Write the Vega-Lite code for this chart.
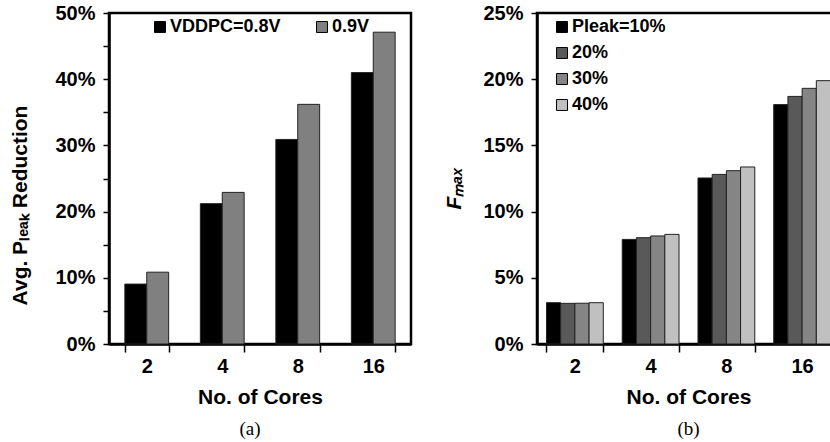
{
  "$schema": "https://vega.github.io/schema/vega-lite/v6.json",
  "padding": {"left": 8, "top": 1, "right": 0, "bottom": 0},
  "spacing": 29,
  "resolve": {"scale": {"color": "independent", "x": "independent", "xOffset": "independent", "y": "independent"}, "legend": {"color": "independent"}},
  "config": {
    "font": "Liberation Sans",
    "view": {"stroke": "black", "strokeWidth": 2.5},
    "axis": {
      "labelFont": "Liberation Sans", "labelFontWeight": "bold", "labelFontSize": 20, "labelColor": "black",
      "titleFont": "Liberation Sans", "titleFontWeight": "bold", "titleFontSize": 21, "titleColor": "black",
      "domainColor": "black", "domainWidth": 2.5, "tickColor": "black", "tickWidth": 1.5, "grid": false
    },
    "legend": {
      "orient": "none", "title": null, "symbolType": "square", "symbolSize": 120,
      "symbolStrokeColor": "black", "symbolStrokeWidth": 1, "labelFont": "Liberation Sans",
      "labelFontSize": 18, "labelFontWeight": "bold", "labelColor": "black", "labelOffset": 1
    },
    "bar": {"stroke": "#222222", "strokeWidth": 1},
    "title": {"font": "Liberation Serif", "fontSize": 19, "fontWeight": "normal", "color": "black"}
  },
  "hconcat": [
    {
      "width": 302, "height": 331,
      "title": {"text": "(a)", "orient": "bottom", "anchor": "middle", "frame": "group", "dx": -10, "offset": 13},
      "data": {"values": [
        {"cores": "2", "series": "VDDPC=0.8V", "value": 0.0905},
        {"cores": "2", "series": "0.9V", "value": 0.1085},
        {"cores": "4", "series": "VDDPC=0.8V", "value": 0.212},
        {"cores": "4", "series": "0.9V", "value": 0.229},
        {"cores": "8", "series": "VDDPC=0.8V", "value": 0.309},
        {"cores": "8", "series": "0.9V", "value": 0.362},
        {"cores": "16", "series": "VDDPC=0.8V", "value": 0.41},
        {"cores": "16", "series": "0.9V", "value": 0.471}
      ]},
      "mark": {"type": "bar"},
      "encoding": {
        "x": {"field": "cores", "type": "ordinal", "sort": ["2", "4", "8", "16"],
          "scale": {"paddingInner": 0.42, "paddingOuter": 0.21},
          "axis": {"title": "No. of Cores", "labelAngle": 0, "tickBand": "extent", "tickSize": 8, "labelPadding": 4, "titlePadding": 10}},
        "xOffset": {"field": "series", "sort": ["VDDPC=0.8V", "0.9V"]},
        "y": {"field": "value", "type": "quantitative", "scale": {"domain": [0, 0.5]},
          "axis": {"title": "Avg. Pₗₑₐₖ Reduction", "values": [0, 0.05, 0.1, 0.15, 0.2, 0.25, 0.3, 0.35, 0.4, 0.45, 0.5],
            "labelExpr": "round(datum.value*100) % 10 == 0 ? format(datum.value, '.0%') : ''",
            "tickSize": 6, "labelPadding": 8, "titlePadding": 24, "titleY": 192}},
        "color": {"field": "series", "type": "nominal",
          "scale": {"domain": ["VDDPC=0.8V", "0.9V"], "range": ["#000000", "#808080"]},
          "legend": {"direction": "horizontal", "columns": 2, "legendX": 42, "legendY": 5, "columnPadding": 32}}
      }
    },
    {
      "width": 303, "height": 331,
      "title": {"text": "(b)", "orient": "bottom", "anchor": "middle", "frame": "group", "offset": 13},
      "data": {"values": [
        {"cores": "2", "series": "Pleak=10%", "value": 0.0312},
        {"cores": "2", "series": "20%", "value": 0.0307},
        {"cores": "2", "series": "30%", "value": 0.0308},
        {"cores": "2", "series": "40%", "value": 0.0312},
        {"cores": "4", "series": "Pleak=10%", "value": 0.079},
        {"cores": "4", "series": "20%", "value": 0.0803},
        {"cores": "4", "series": "30%", "value": 0.0816},
        {"cores": "4", "series": "40%", "value": 0.0828},
        {"cores": "8", "series": "Pleak=10%", "value": 0.1254},
        {"cores": "8", "series": "20%", "value": 0.1281},
        {"cores": "8", "series": "30%", "value": 0.1309},
        {"cores": "8", "series": "40%", "value": 0.1337},
        {"cores": "16", "series": "Pleak=10%", "value": 0.1808},
        {"cores": "16", "series": "20%", "value": 0.187},
        {"cores": "16", "series": "30%", "value": 0.1931},
        {"cores": "16", "series": "40%", "value": 0.1989}
      ]},
      "mark": {"type": "bar"},
      "encoding": {
        "x": {"field": "cores", "type": "ordinal", "sort": ["2", "4", "8", "16"],
          "scale": {"paddingInner": 0.25, "paddingOuter": 0.125},
          "axis": {"title": "No. of Cores", "labelAngle": 0, "tickBand": "extent", "tickSize": 8, "labelPadding": 4, "titlePadding": 10}},
        "xOffset": {"field": "series", "sort": ["Pleak=10%", "20%", "30%", "40%"]},
        "y": {"field": "value", "type": "quantitative", "scale": {"domain": [0, 0.25]},
          "axis": {"title": "Fₘₐₓ", "titleFontStyle": "italic", "values": [0, 0.05, 0.1, 0.15, 0.2, 0.25],
            "format": ".0%", "tickSize": 6, "labelPadding": 8, "titlePadding": 18, "titleY": 175}},
        "color": {"field": "series", "type": "nominal",
          "scale": {"domain": ["Pleak=10%", "20%", "30%", "40%"], "range": ["#000000", "#595959", "#858585", "#c0c0c0"]},
          "legend": {"direction": "vertical", "legendX": 16, "legendY": 5, "rowPadding": 8}}
      }
    }
  ]
}
